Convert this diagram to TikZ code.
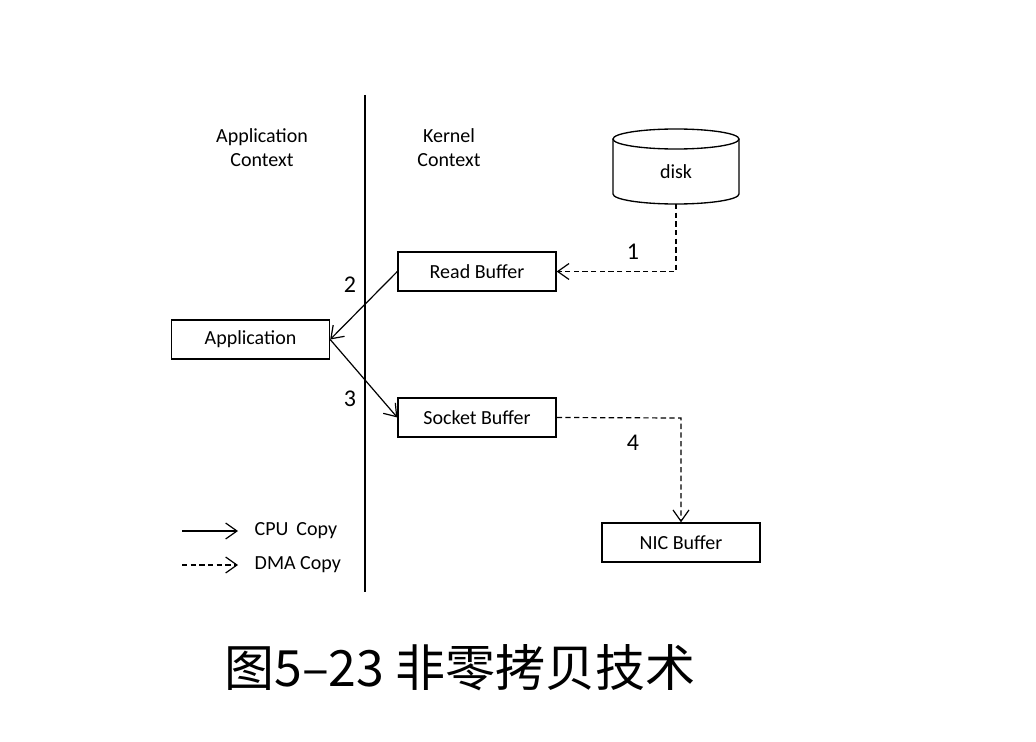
\documentclass[tikz,border=0pt]{standalone}
\usepackage{fontspec}
\setmainfont{Carlito}
\newfontfamily\cjk{Noto Sans CJK SC}
\usetikzlibrary{arrows.meta}
\begin{document}
\begin{tikzpicture}[x=0.75pt,y=-0.75pt,
  box/.style={draw,line width=1pt,minimum width=158*0.75pt,minimum height=39*0.75pt,inner sep=0pt,font=\fontsize{15}{17}\selectfont},
  lbl/.style={font=\fontsize{15}{18}\selectfont,align=center},
  num/.style={font=\fontsize{18}{20}\selectfont},
  cpu/.style={line width=0.9pt,-{Straight Barb[length=8.5pt,width=12pt,line width=0.9pt]}},
  dma/.style={line width=0.9pt,dash pattern=on 4pt off 2.5pt,-{Straight Barb[length=8.5pt,width=12pt,line width=0.9pt]}}]
\useasboundingbox (0,0) rectangle (1036,742);
% divider
\coordinate (vtop) at (365,95);
\coordinate (vbot) at (365,592);
\draw[line width=1pt] (vtop) -- (vbot);
% headings
\node[lbl] (appctx) at (262,148) {Application\\Context};
\node[lbl] (kerctx) at (449,148) {Kernel\\Context};
% disk
\draw[line width=1pt] (676,139) ellipse [x radius=63, y radius=10];
\draw[line width=1pt] (613,139) -- (613,194) arc[start angle=180,end angle=0,x radius=63,y radius=10] -- (739,139);
\node[font=\fontsize{15}{17}\selectfont] (disk) at (676,172) {disk};
\coordinate (diskb) at (676,204);
% boxes
\node[box] (read) at (477,271.5) {Read Buffer};
\node[box] (app) at (250.5,339.5) {Application};
\node[box] (sock) at (477,417.5) {Socket Buffer};
\node[box] (nic) at (681,542.5) {NIC Buffer};
% connectors
\draw[dma] (diskb) -- (diskb |- read.east) -- (read.east);
\draw[cpu] (read.west) -- (app.east);
\draw[cpu] (app.east) -- (sock.west);
\coordinate (c4) at (681,418);
\draw[dma] (sock.east) -- (c4) -- (nic.north);
% numbers
\node[num] (n1) at (633,252) {1};
\node[num] (n2) at (350,285) {2};
\node[num] (n3) at (350,399) {3};
\node[num] (n4) at (633,443) {4};
% legend
\coordinate (l1a) at (182,531);
\coordinate (l1b) at (238,531);
\coordinate (l2a) at (182,565);
\coordinate (l2b) at (238,565);
\draw[cpu] (l1a) -- (l1b);
\draw[dma] (l2a) -- (l2b);
\node[anchor=west,font=\fontsize{15}{17}\selectfont] (lcpu) at (250,531) {CPU\, Copy};
\node[anchor=west,font=\fontsize{15}{17}\selectfont] (ldma) at (250,565) {DMA Copy};
% title
\node[font=\cjk\fontsize{37.5}{40}\selectfont] (title) at (460,668) {图5–23 非零拷贝技术};
\end{tikzpicture}
\end{document}
